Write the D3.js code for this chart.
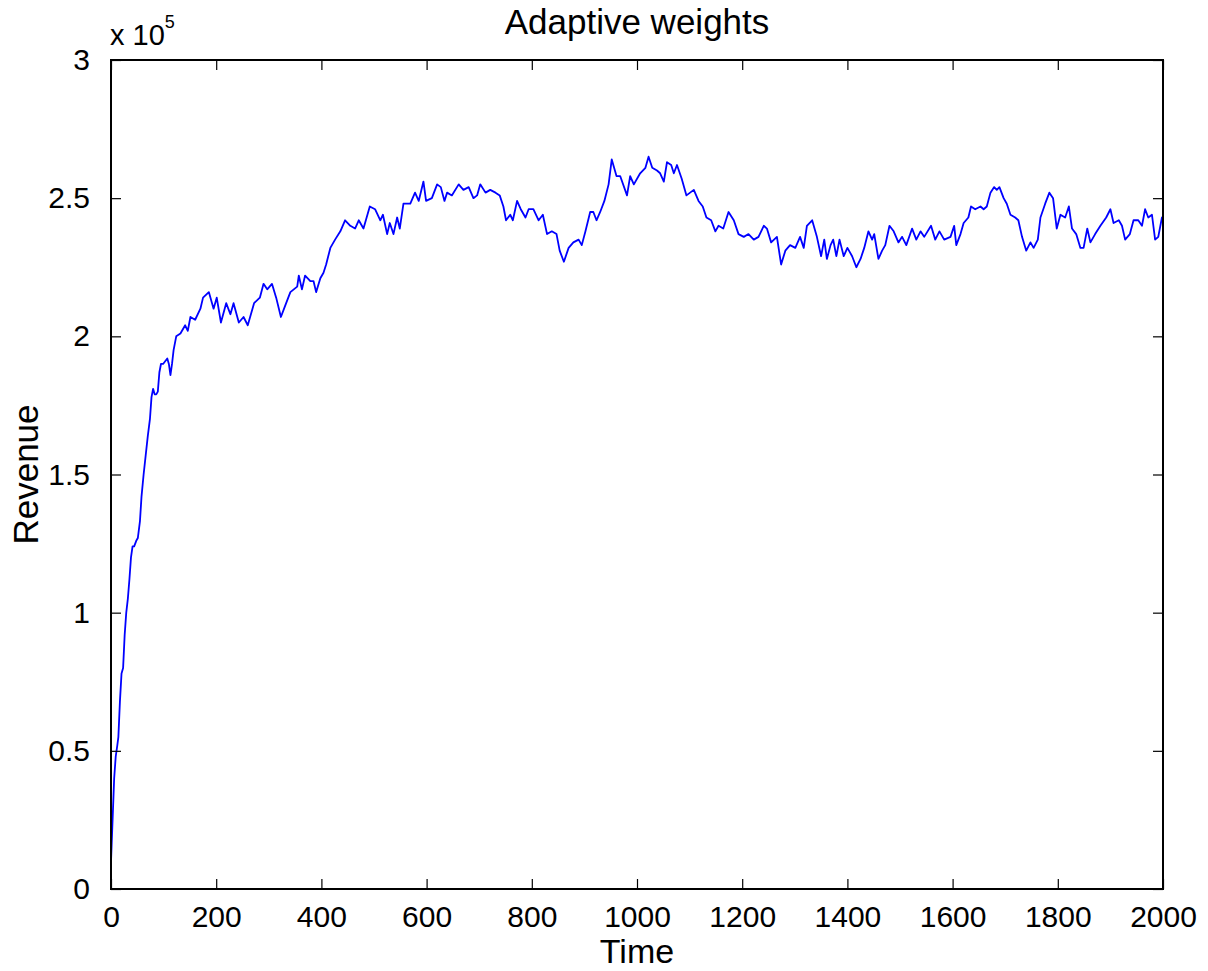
<!DOCTYPE html>
<html>
<head>
<meta charset="utf-8">
<script src="https://cdn.jsdelivr.net/npm/d3@7"></script>
<style>
  body { margin: 0; background: #fff; }
  text { font-family: "Liberation Sans", Arial, Helvetica, sans-serif; fill: #000; }
  .axis path { display: none; }
  .axis line { stroke: #000; stroke-width: 1.2; }
  .axis text { font-size: 30px; }
</style>
</head>
<body>
<div id="chart"></div>
<script>
// values, revenue in units of 1e5
const time = [0,3,6,9,12,14,17,20,23,26,29,32,35,38,41,44,48,51,55,58,62,66,70,74,77,80,83,86,89,92,95,99,103,107,110,113,116,119,124,
  132,141,146,151,160,170,175,186,195,201,209,219,227,233,243,252,260,272,283,290,297,306,314,323,331,341,354,357,363,369,379,385,390,398,404,409,417,426,436,445,455,464,471,480,492,502,512,517,525,530,537,544,549,
  556,569,578,585,594,599,610,620,627,634,639,648,661,670,680,689,696,702,712,721,731,739,746,751,759,764,772,779,788,794,803,813,821,829,838,847,853,861,870,879,889,895,902,911,917,923,930,938,946,952,961,968,981,987,994,1006,1016,1022,1029,1038,1044,1051,1057,1065,1070,1076,1085,1094,1101,1108,1117,1125,1132,1141,1149,1155,1164,1174,1184,1193,1203,1212,1222,1231,1241,1247,1255,1266,1274,1282,1291,1301,1310,1317,1323,1333,1342,
  1350,1356,1361,1368,1373,1379,1385,1393,1400,1409,1417,1425,1432,1440,1447,1451,1459,1466,1472,1480,1488,1497,1504,1512,1523,1531,1539,1546,1559,1567,1575,1584,1596,1603,1607,1615,1621,1630,1635,1643,1653,1659,1665,1672,1679,1684,1689,1697,1703,1710,1719,1725,1732,1740,1748,1754,1762,1767,1776,1784,1791,1798,1805,1814,1821,1827,1835,1843,1849,1856,1862,1871,1881,1892,1900,1906,1916,1922,1928,1937,1944,1953,1960,1966,1972,1979,1985,1991,1998,2000]

const revenue = [0.10,0.25,0.40,0.48,0.52,0.55,0.68,0.78,0.80,0.92,1.00,1.05,1.12,1.20,1.24,1.24,1.26,1.27,1.33,1.42,1.50,1.57,1.64,1.70,1.78,1.81,1.79,1.79,1.80,1.87,1.90,1.90,1.91,1.92,1.90,1.86,1.90,1.95,2.00,
  2.01,2.04,2.02,2.07,2.06,2.10,2.14,2.16,2.10,2.14,2.05,2.12,2.08,2.12,2.05,2.07,2.04,2.12,2.14,2.19,2.17,2.19,2.14,2.07,2.11,2.16,2.18,2.22,2.17,2.22,2.20,2.20,2.16,2.21,2.23,2.26,2.32,2.35,2.38,2.42,2.40,2.39,2.42,2.39,2.47,2.46,2.42,2.44,2.37,2.41,2.37,2.43,2.39,
  2.48,2.48,2.52,2.49,2.56,2.49,2.50,2.55,2.54,2.49,2.52,2.51,2.55,2.53,2.54,2.50,2.51,2.55,2.52,2.53,2.52,2.51,2.47,2.42,2.44,2.42,2.49,2.46,2.43,2.46,2.46,2.42,2.44,2.37,2.38,2.37,2.31,2.27,2.32,2.34,2.35,2.33,2.38,2.45,2.45,2.42,2.45,2.49,2.55,2.64,2.58,2.58,2.51,2.58,2.55,2.59,2.61,2.65,2.61,2.60,2.59,2.56,2.63,2.62,2.59,2.62,2.57,2.51,2.52,2.53,2.49,2.47,2.43,2.42,2.38,2.40,2.39,2.45,2.42,2.37,2.36,2.37,2.35,2.36,2.40,2.39,2.34,2.36,2.26,2.31,2.33,2.32,2.36,2.32,2.40,2.42,2.36,
  2.29,2.35,2.28,2.33,2.35,2.29,2.35,2.29,2.32,2.29,2.25,2.28,2.32,2.38,2.35,2.37,2.28,2.31,2.33,2.40,2.38,2.34,2.36,2.33,2.39,2.35,2.38,2.36,2.40,2.35,2.38,2.35,2.36,2.40,2.33,2.37,2.41,2.43,2.47,2.46,2.47,2.46,2.47,2.52,2.54,2.53,2.54,2.50,2.48,2.44,2.43,2.42,2.36,2.31,2.34,2.32,2.35,2.43,2.48,2.52,2.50,2.39,2.44,2.43,2.47,2.39,2.37,2.32,2.32,2.39,2.34,2.37,2.40,2.43,2.46,2.41,2.42,2.40,2.35,2.37,2.42,2.42,2.40,2.46,2.43,2.44,2.35,2.36,2.43,2.43]

const xTicks = [0,200,400,600,800,1000,1200,1400,1600,1800,2000]
const yTicks = [0,0.5,1,1.5,2,2.5,3]

const margin = { top: 60, right: 45, bottom: 82, left: 111 }
const width = 1208 - margin.left - margin.right,
    height = 971 - margin.top - margin.bottom;

const svg = d3.select("#chart")
    .append("svg")
    .attr("width", 1208)
    .attr("height", 971)

const g = svg.append("g")
    .attr("transform", "translate(" + margin.left + "," + margin.top + ")")

const xPositionScale = d3.scaleLinear().domain([0, 2000]).range([0, width])
const yPositionScale = d3.scaleLinear().domain([0, 3]).range([height, 0])

const points = time.map((t, i) => ({ t: t, v: revenue[i] }))

const line = d3.line()
    .x(d => xPositionScale(d.t))
    .y(d => yPositionScale(d.v))

g.append("path")
    .datum(points)
    .attr("fill", "none")
    .attr("stroke", "#0000ff")
    .attr("stroke-width", 1.8)
    .attr("stroke-linejoin", "round")
    .attr("d", line)

// ticks point inward, mirrored on top and right
const fmt = d => d3.format("")(d)

g.append("g").attr("class", "axis")
    .attr("transform", "translate(0," + height + ")")
    .call(d3.axisBottom(xPositionScale).tickValues(xTicks).tickSizeInner(-10).tickSizeOuter(0).tickPadding(17).tickFormat(fmt))
    .selectAll("text").attr("dy", "0.71em")

g.append("g").attr("class", "axis")
    .call(d3.axisTop(xPositionScale).tickValues(xTicks).tickSizeInner(-10).tickSizeOuter(0).tickFormat(""))

g.append("g").attr("class", "axis")
    .call(d3.axisLeft(yPositionScale).tickValues(yTicks).tickSizeInner(-10).tickSizeOuter(0).tickPadding(21).tickFormat(fmt))

g.append("g").attr("class", "axis")
    .attr("transform", "translate(" + width + ",0)")
    .call(d3.axisRight(yPositionScale).tickValues(yTicks).tickSizeInner(-10).tickSizeOuter(0).tickFormat(""))

g.append("rect")
    .attr("width", width)
    .attr("height", height)
    .attr("fill", "none")
    .attr("stroke", "#000")
    .attr("stroke-width", 2)

// exponent label
const expo = svg.append("text")
    .attr("x", 110)
    .attr("y", 45)
    .style("font-size", "29px")
expo.append("tspan").text("x 10")
expo.append("tspan").attr("dy", -17).style("font-size", "18px").text("5")

svg.append("text")
    .attr("x", margin.left + width / 2)
    .attr("y", 34)
    .attr("text-anchor", "middle")
    .style("font-size", "35px")
    .text("Adaptive weights")

svg.append("text")
    .attr("x", margin.left + width / 2)
    .attr("y", 963)
    .attr("text-anchor", "middle")
    .style("font-size", "34px")
    .text("Time")

svg.append("text")
    .attr("transform", "translate(38," + (margin.top + height / 2) + ") rotate(-90)")
    .attr("text-anchor", "middle")
    .style("font-size", "35px")
    .text("Revenue")
</script>
</body>
</html>
